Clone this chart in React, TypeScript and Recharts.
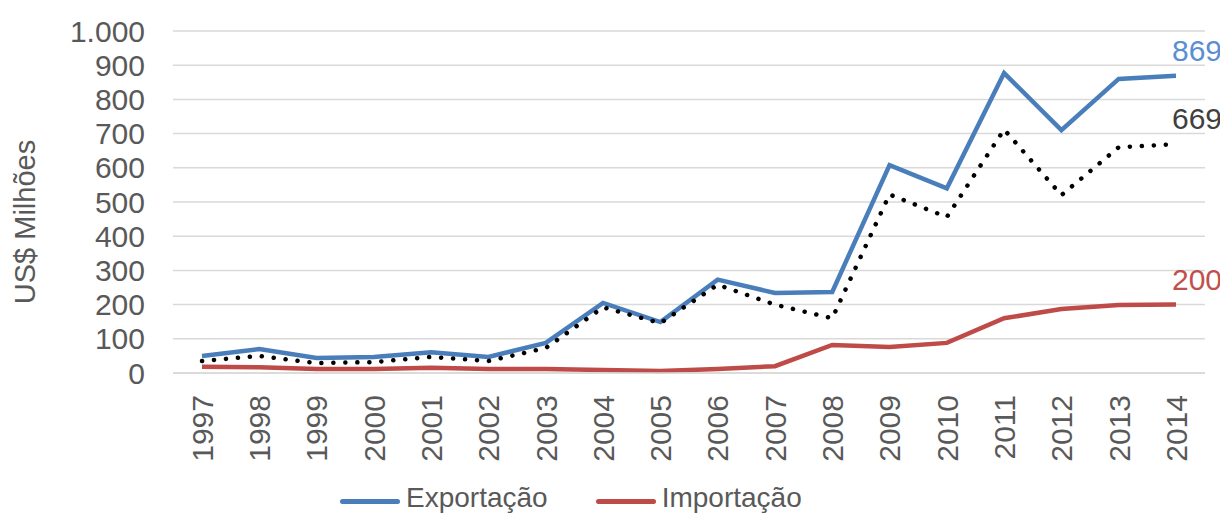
import { LineChart, Line, XAxis, YAxis, CartesianGrid, Legend } from 'recharts';

const years = ['1997', '1998', '1999', '2000', '2001', '2002', '2003', '2004', '2005', '2006', '2007', '2008', '2009', '2010', '2011', '2012', '2013', '2014'];
const exportacao = [50, 70, 44, 47, 61, 47, 88, 205, 149, 273, 234, 237, 608, 540, 877, 710, 860, 869];
const importacao = [18, 17, 12, 12, 15, 12, 12, 9, 6, 12, 20, 82, 76, 88, 160, 187, 199, 200];
const saldo = [35, 50, 29, 32, 47, 35, 73, 192, 146, 258, 200, 160, 522, 456, 712, 520, 660, 669];
const yTicks = [0, 100, 200, 300, 400, 500, 600, 700, 800, 900, 1000];

const data = years.map((year, i) => ({
  year,
  exportacao: exportacao[i],
  importacao: importacao[i],
  saldo: saldo[i],
}));

const FONT = '"Liberation Sans", Arial, sans-serif';
const GRAY = '#595959';
const BLUE = '#4a7ebb';
const RED = '#be4b48';

const fmt = (v: number) => (v >= 1000 ? `${Math.floor(v / 1000)}.${String(v % 1000).padStart(3, '0')}` : String(v));

function YearTick({ x, y, payload }: any) {
  return (
    <text
      transform={`translate(${x},${y + 22}) rotate(-90)`}
      textAnchor="end"
      dy="0.36em"
      fill={GRAY}
      fontSize={30}
      fontFamily={FONT}
    >
      {payload.value}
    </text>
  );
}

function lastLabel(color: string) {
  return (props: any) => {
    const { x, y, value, index } = props;
    if (index !== years.length - 1) return <g />;
    return (
      <text x={x - 4} y={y - 15} fill={color} fontSize={30} fontFamily={FONT}>
        {value}
      </text>
    );
  };
}

function LegendContent({ payload }: any) {
  const items = (payload || []).filter((p: any) => p.type !== 'none');
  return (
    <div
      style={{
        height: 40,
        boxSizing: 'border-box',
        paddingTop: 10,
        paddingLeft: 332,
        display: 'flex',
        alignItems: 'center',
        fontFamily: FONT,
        fontSize: 28,
        color: GRAY,
      }}
    >
      {items.map((item: any) => (
        <div key={item.value} style={{ display: 'flex', alignItems: 'center', marginRight: 48 }}>
          <span style={{ display: 'inline-block', width: 60, height: 5, borderRadius: 3, background: item.color, marginRight: 6, marginTop: 6 }} />
          <span>{item.value}</span>
        </div>
      ))}
    </div>
  );
}

export default function App() {
  return (
    <div style={{ width: 1220, height: 509, background: '#fff' }}>
      <LineChart width={1220} height={509} data={data} margin={{ top: 23, right: 23, left: 0, bottom: 4 }}>
        <CartesianGrid vertical={false} stroke="#d9d9d9" strokeWidth={1.5} />
        <XAxis
          dataKey="year"
          interval={0}
          height={100}
          padding={{ left: 29, right: 29 }}
          axisLine={{ stroke: '#d9d9d9', strokeWidth: 1.5 }}
          tickLine={false}
          tickSize={0}
          tickMargin={0}
          tick={<YearTick />}
        />
        <YAxis
          width={165}
          domain={[0, 1000]}
          ticks={yTicks}
          interval={0}
          axisLine={false}
          tickLine={false}
          tickSize={0}
          tickMargin={28}
          tickFormatter={fmt}
          tick={{ fill: GRAY, fontSize: 30, fontFamily: FONT }}
          label={{
            content: ({ viewBox }: any) => {
              const cy = viewBox.y + viewBox.height / 2 + 20;
              return (
                <text
                  transform={`translate(17,${cy}) rotate(-90)`}
                  textAnchor="middle"
                  dy="0.36em"
                  fill={GRAY}
                  fontSize={29}
                  fontFamily={FONT}
                >
                  US$ Milhões
                </text>
              );
            },
          }}
        />
        <Legend verticalAlign="bottom" content={<LegendContent />} />
        <Line
          type="linear"
          dataKey="exportacao"
          name="Exportação"
          stroke={BLUE}
          strokeWidth={4.5}
          dot={false}
          isAnimationActive={false}
          label={lastLabel('#5a8ed3')}
        />
        <Line
          type="linear"
          dataKey="importacao"
          name="Importação"
          stroke={RED}
          strokeWidth={4.5}
          dot={false}
          isAnimationActive={false}
          label={lastLabel('#c0504d')}
        />
        <Line
          type="linear"
          dataKey="saldo"
          name="Saldo"
          legendType="none"
          stroke="#000"
          strokeWidth={4.5}
          strokeDasharray="0.1 11.9"
          strokeLinecap="round"
          dot={false}
          isAnimationActive={false}
          label={lastLabel('#404040')}
        />
      </LineChart>
    </div>
  );
}
